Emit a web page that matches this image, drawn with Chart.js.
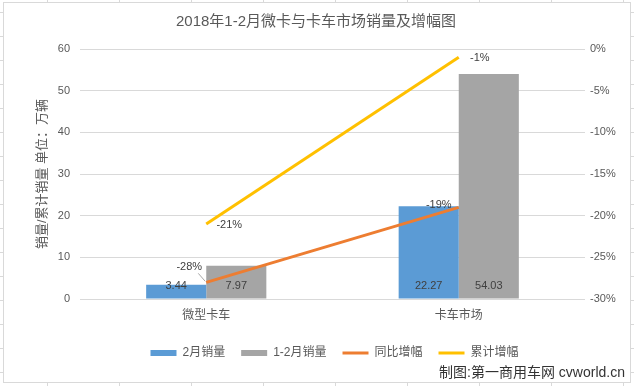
<!DOCTYPE html>
<html>
<head>
<meta charset="utf-8">
<script src="https://cdn.jsdelivr.net/npm/chart.js@4"></script>
<style>
  html, body { margin: 0; padding: 0; }
  body {
    width: 634px; height: 386px; position: relative; overflow: hidden;
    background-color: #fff;
    background-image:
      repeating-linear-gradient(to right, transparent 0 47px, #d9d9d9 47px 48px, transparent 48px 72px),
      repeating-linear-gradient(to bottom, transparent 0 12px, #d9d9d9 12px 13px, transparent 13px 24px);
  }
  #box {
    position: absolute; left: 3px; top: 2px; width: 626px; height: 379px;
    background: #fff; border: 1px solid #d9d9d9;
  }
  #wrap { position: absolute; left: 0; top: 0; width: 634px; height: 386px; }
</style>
</head>
<body>
<div id="box"></div>
<div id="wrap"><canvas id="salesChart"></canvas></div>
<script>
const categories = ['微型卡车', '卡车市场'];
const febSales = [3.44, 22.27];
const janFebSales = [7.97, 54.03];
const yoyGrowth = [-28, -19];
const cumGrowth = [-21, -1];

const FONT = '"Liberation Sans", "Noto Sans CJK SC", sans-serif';
const TEXT = '#595959';

// подписи значений + заголовок + подпись источника
const labelsPlugin = {
    id: 'valueLabels',
    afterDatasetsDraw(chart) {
        const ctx = chart.ctx;
        ctx.save();
        ctx.font = '11px ' + FONT;
        ctx.fillStyle = '#404040';
        ctx.textAlign = 'center';
        ctx.textBaseline = 'middle';
        chart.data.datasets.forEach((ds, i) => {
            const meta = chart.getDatasetMeta(i);
            meta.data.forEach((el, j) => {
                const v = ds.data[j];
                if (ds.type === 'bar') {
                    ctx.fillText(v.toFixed(2), el.x, el.base - 13);
                } else {
                    const off = ds.labelOffsets[j];
                    const tx = el.x + off[0], ty = el.y + off[1];
                    if (off[2]) {
                        ctx.strokeStyle = '#a6a6a6';
                        ctx.lineWidth = 1;
                        ctx.beginPath();
                        ctx.moveTo(tx + 9, ty + 6);
                        ctx.lineTo(el.x - 1, el.y - 1);
                        ctx.stroke();
                    }
                    ctx.fillText(v + '%', tx, ty);
                }
            });
        });
        ctx.restore();
    },
    afterDraw(chart) {
        const ctx = chart.ctx;
        ctx.save();
        ctx.textBaseline = 'middle';
        ctx.textAlign = 'center';
        ctx.fillStyle = TEXT;
        ctx.font = '15px ' + FONT;
        ctx.fillText('2018年1-2月微卡与卡车市场销量及增幅图', 316, 22);
        ctx.textAlign = 'right';
        ctx.fillStyle = '#333333';
        ctx.font = '14px ' + FONT;
        ctx.fillText('制图:第一商用车网 cvworld.cn', 625, 373);
        ctx.restore();
    }
};

new Chart(document.getElementById('salesChart'), {
    data: {
        labels: categories,
        datasets: [{
            type: 'bar',
            label: '2月销量',
            data: febSales,
            backgroundColor: '#5B9BD5',
            yAxisID: 'y',
            order: 2
        }, {
            type: 'bar',
            label: '1-2月销量',
            data: janFebSales,
            backgroundColor: '#A5A5A5',
            yAxisID: 'y',
            order: 2
        }, {
            type: 'line',
            label: '同比增幅',
            data: yoyGrowth,
            borderColor: '#ED7D31',
            backgroundColor: '#ED7D31',
            borderWidth: 3,
            pointRadius: 0,
            yAxisID: 'y1',
            order: 1,
            labelOffsets: [[-17, -15, true], [-20, -2]]
        }, {
            type: 'line',
            label: '累计增幅',
            data: cumGrowth,
            borderColor: '#FFC000',
            backgroundColor: '#FFC000',
            borderWidth: 3,
            pointRadius: 0,
            yAxisID: 'y1',
            order: 1,
            labelOffsets: [[23, 1], [21, 1]]
        }]
    },
    options: {
        responsive: true,
        maintainAspectRatio: false,
        animation: false,
        layout: { padding: { left: 35, right: 0, top: 49, bottom: 17 } },
        datasets: {
            bar: { categoryPercentage: 0.476, barPercentage: 1 }
        },
        plugins: {
            tooltip: { enabled: false },
            title: { display: false },
            legend: {
                position: 'bottom',
                labels: {
                    font: { family: FONT, size: 12 },
                    color: TEXT,
                    usePointStyle: true,
                    pointStyleWidth: 26,
                    boxHeight: 6,
                    padding: 16,
                    generateLabels(chart) {
                        const items = Chart.defaults.plugins.legend.labels.generateLabels(chart);
                        items.sort((a, b) => a.datasetIndex - b.datasetIndex);
                        items.forEach(it => {
                            const ds = chart.data.datasets[it.datasetIndex];
                            it.pointStyle = ds.type === 'bar' ? 'rect' : 'line';
                            if (ds.type === 'bar') it.lineWidth = 0;
                        });
                        return items;
                    }
                }
            }
        },
        scales: {
            x: {
                grid: { display: false },
                border: { display: false },
                ticks: { color: TEXT, font: { family: FONT, size: 12 }, padding: 1 },
                afterFit(scale) { scale.height = 32; }
            },
            y: {
                position: 'left',
                min: 0,
                max: 60,
                ticks: { stepSize: 10, color: TEXT, font: { family: FONT, size: 11 }, padding: 10 },
                grid: { color: '#d9d9d9', drawTicks: false },
                border: { display: false },
                title: {
                    display: true,
                    text: '销量/累计销量 单位：万辆',
                    color: TEXT,
                    font: { family: FONT, size: 13 },
                    padding: 0
                },
                afterFit(scale) { scale.width = 45; }
            },
            y1: {
                position: 'right',
                min: -30,
                max: 0,
                ticks: {
                    stepSize: 5, color: TEXT, font: { family: FONT, size: 11 }, padding: 5,
                    callback: v => v + '%'
                },
                grid: { drawOnChartArea: false, drawTicks: false },
                border: { display: false },
                afterFit(scale) { scale.width = 49; }
            }
        }
    },
    plugins: [labelsPlugin]
});
</script>
</body>
</html>
